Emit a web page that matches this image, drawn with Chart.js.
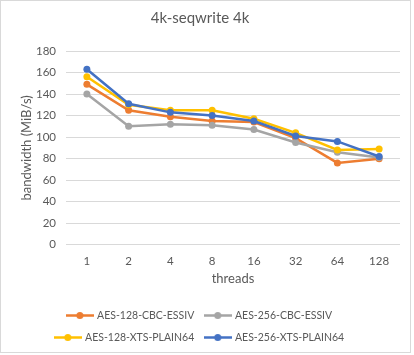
<!DOCTYPE html>
<html>
<head>
<meta charset="utf-8">
<script src="https://cdn.jsdelivr.net/npm/chart.js@4"></script>
<style>
html,body{margin:0;padding:0;background:#fff;}
canvas{display:block;}
</style>
</head>
<body>
<canvas id="c" width="414" height="355"></canvas>
<script>
const threads = ['1','2','4','8','16','32','64','128'];
const aes128cbc = [149, 125, 119, 115, 114, 99, 76, 80];
const aes256cbc = [140, 110, 112, 111, 107, 95, 86, 81];
const aes128xts = [156, 130, 125, 125, 117, 104, 88, 89];
const aes256xts = [163, 131, 123, 120, 115, 101, 96, 82];
const seriesNames = ['AES-128-CBC-ESSIV','AES-256-CBC-ESSIV','AES-128-XTS-PLAIN64','AES-256-XTS-PLAIN64'];
const colors = ['#ED7D31','#A5A5A5','#FFC000','#4472C4'];
const yTicks = [0,20,40,60,80,100,120,140,160,180];

Chart.defaults.font.family = 'Lato, "Liberation Sans", sans-serif';
Chart.defaults.color = '#595959';

function legendIcon(color){
  const c = document.createElement('canvas');
  c.width = 28; c.height = 9;
  const x = c.getContext('2d');
  x.strokeStyle = color; x.lineWidth = 2.5;
  x.beginPath(); x.moveTo(0,4.5); x.lineTo(28,4.5); x.stroke();
  x.fillStyle = color;
  x.beginPath(); x.arc(14,4.5,3.5,0,Math.PI*2); x.fill();
  return c;
}
const icons = colors.map(legendIcon);

const borderPlugin = {
  id:'frame',
  afterDraw(chart){
    const ctx = chart.ctx;
    ctx.save();
    ctx.strokeStyle = '#d9d9d9';
    ctx.lineWidth = 1;
    ctx.strokeRect(0.5,0.5,410,352);
    ctx.restore();
  }
};

const dataArrays = [aes128cbc, aes256cbc, aes128xts, aes256xts];
new Chart(document.getElementById('c'), {
  type:'line',
  data:{
    labels: threads,
    datasets: dataArrays.map((d,i)=>({
      label: seriesNames[i],
      data: d,
      borderColor: colors[i],
      backgroundColor: colors[i],
      borderWidth: 2.5,
      pointRadius: 3.5,
      pointHoverRadius: 3.5,
      pointBorderWidth: 0,
      tension: 0,
      order: 3 - i
    }))
  },
  options:{
    responsive:false,
    animation:false,
    layout:{padding:{left:0,right:14,top:0,bottom:2.25}},
    plugins:{
      tooltip:{enabled:false},
      title:{
        display:true,
        text:'4k-seqwrite 4k',
        color:'#595959',
        font:{size:15, weight:'normal'},
        padding:{top:9, bottom:24}
      },
      legend:{
        position:'bottom',
        labels:{
          usePointStyle:true,
          pointStyleWidth:24,
          padding:11.5,
          color:'#595959',
          font:{size:10.5},
          sort:(a,b)=>a.datasetIndex-b.datasetIndex,
          generateLabels(chart){
            const items = Chart.defaults.plugins.legend.labels.generateLabels(chart);
            items.forEach(it=>{ it.pointStyle = icons[it.datasetIndex]; });
            return items;
          }
        }
      }
    },
    scales:{
      x:{
        offset:true,
        grid:{display:false, drawTicks:false},
        border:{display:false},
        ticks:{padding:10, font:{size:11.5}, color:'#595959'},
        title:{display:true, text:'threads', font:{size:13}, color:'#595959', padding:{top:0,bottom:12}},
        afterFit(s){ s.height = 54; }
      },
      y:{
        min:0, max:180,
        afterBuildTicks(s){ s.ticks = yTicks.map(v=>({value:v})); },
        grid:{color:'#d9d9d9', drawTicks:false},
        border:{display:false},
        ticks:{padding:10, font:{size:11.5}, color:'#595959'},
        title:{display:true, text:'bandwidth (MiB/s)', font:{size:13}, color:'#595959', padding:{top:19,bottom:0}},
        afterFit(s){ s.width = 66; }
      }
    }
  },
  plugins:[borderPlugin]
});
</script>
</body>
</html>
